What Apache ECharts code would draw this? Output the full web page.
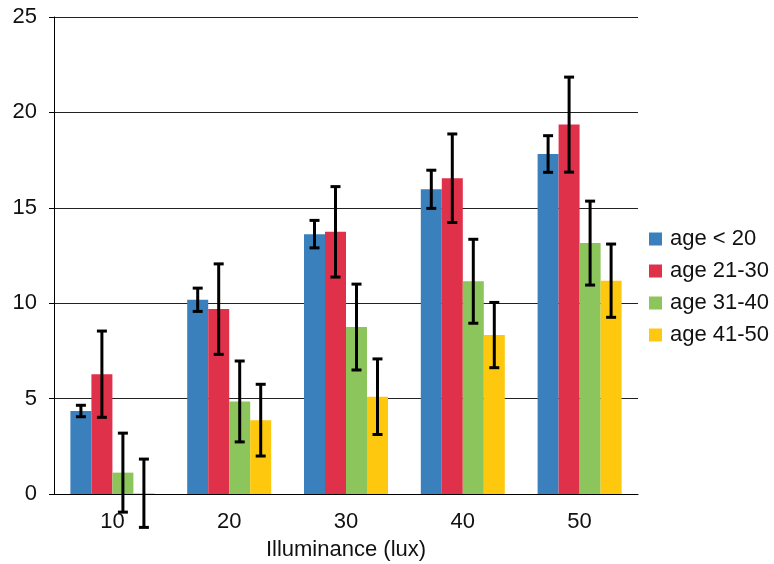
<!DOCTYPE html>
<html><head><meta charset="utf-8">
<script src="https://cdn.jsdelivr.net/npm/echarts@6/dist/echarts.min.js"></script>
<style>html,body{margin:0;padding:0;background:#fff}#c{width:774px;height:564px}</style>
</head><body><div id="c"></div>
<script>
const categories = ['10', '20', '30', '40', '50'];
const seriesNames = ['age < 20', 'age 21-30', 'age 31-40', 'age 41-50'];
const meanLt20 = [4.35, 10.18, 13.62, 15.97, 17.82];
const mean2130 = [6.28, 9.69, 13.74, 16.55, 19.36];
const mean3140 = [1.12, 4.85, 8.75, 11.15, 13.15];
const mean4150 = [0.04, 3.87, 5.1, 8.33, 11.18];
const errLt20 = [0.3, 0.61, 0.72, 1.0, 0.96];
const err2130 = [2.26, 2.37, 2.37, 2.32, 2.49];
const err3140 = [2.07, 2.12, 2.25, 2.2, 2.2];
const err4150 = [1.79, 1.88, 1.98, 1.71, 1.92];
const yTicks = [0, 5, 10, 15, 20, 25];

const means = [meanLt20, mean2130, mean3140, mean4150];
const errs = [errLt20, err2130, err3140, err4150];
const colors = ['#3A80BD', '#E0314B', '#8CC55B', '#FDC80D'];
const BAR_W = 21;
const FONT = 'Liberation Sans, Arial, sans-serif';
const FS = 22;

const errData = [];
for (let s = 0; s < 4; s++) {
  for (let i = 0; i < categories.length; i++) {
    errData.push([i, means[s][i] - errs[s][i], means[s][i] + errs[s][i], s]);
  }
}

const chart = echarts.init(document.getElementById('c'), null, {renderer: 'canvas'});
const series = seriesNames.map((n, s) => ({
  name: n, type: 'bar', data: means[s], barWidth: BAR_W, barGap: '0%',
  itemStyle: {color: colors[s]}
}));
series.push({
  type: 'custom', z: 10, silent: true,
  data: errData,
  encode: {x: 0, y: [1, 2]},
  renderItem: function (params, api) {
    const cat = api.value(0), lo = api.value(1), hi = api.value(2), s = api.value(3);
    const pLo = api.coord([cat, lo]);
    const pHi = api.coord([cat, hi]);
    const x = pLo[0] + (s - 1.5) * BAR_W;
    const cap = 5;
    const st = {stroke: '#000', lineWidth: 3};
    return {type: 'group', children: [
      {type: 'line', shape: {x1: x, y1: pHi[1], x2: x, y2: pLo[1]}, style: st},
      {type: 'line', shape: {x1: x - cap, y1: pHi[1], x2: x + cap, y2: pHi[1]}, style: st},
      {type: 'line', shape: {x1: x - cap, y1: pLo[1], x2: x + cap, y2: pLo[1]}, style: st}
    ]};
  }
});

chart.setOption({
  animation: false,
  backgroundColor: '#fff',
  textStyle: {fontFamily: FONT},
  grid: {left: 54, right: 136, top: 17, bottom: 70, containLabel: false, outerBoundsMode: 'none'},
  legend: {
    orient: 'vertical', left: 644, top: 223,
    data: seriesNames, icon: 'rect', itemWidth: 13, itemHeight: 13, itemGap: 10,
    textStyle: {fontSize: FS, color: '#111', fontFamily: FONT, padding: [0, 0, 0, 3]}
  },
  xAxis: {
    type: 'category', data: categories,
    name: 'Illuminance (lux)', nameLocation: 'middle', nameGap: 45,
    nameTextStyle: {fontSize: FS, color: '#111', fontFamily: FONT},
    axisLine: {show: true, lineStyle: {color: '#000', width: 1}},
    axisTick: {show: false},
    axisLabel: {fontSize: FS, color: '#111', margin: 17, fontFamily: FONT}
  },
  yAxis: {
    type: 'value', min: 0, max: 25, interval: 5,
    axisLine: {show: true, lineStyle: {color: '#000', width: 1}},
    axisTick: {show: true, length: 5, lineStyle: {color: '#000'}},
    axisLabel: {fontSize: FS, color: '#111', margin: 17, fontFamily: FONT,
      formatter: v => yTicks.includes(v) ? String(v) : ''},
    splitLine: {show: true, lineStyle: {color: '#222', width: 1}}
  },
  series: series
});
</script></body></html>
